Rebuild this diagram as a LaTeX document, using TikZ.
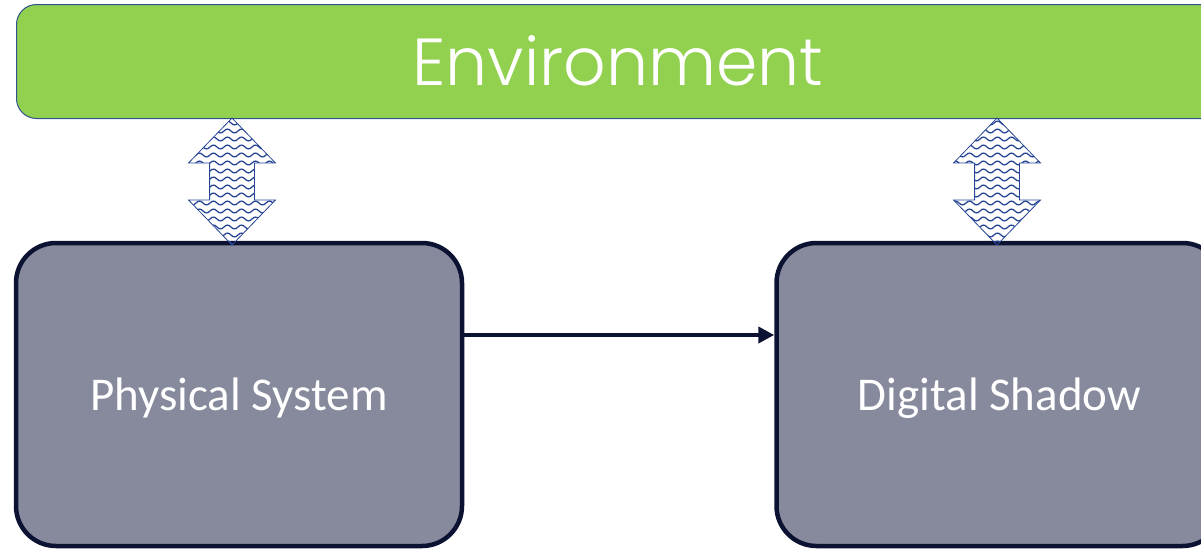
\documentclass[tikz,border=0pt]{standalone}
\usepackage{fontspec}
\newfontfamily\boxfont{Carlito}
\newfontfamily\envfont{Poppins}[UprightFont=* Light]
\usetikzlibrary{positioning,arrows.meta,shapes.arrows,patterns}
\definecolor{envgreen}{RGB}{146,208,80}
\definecolor{envline}{RGB}{47,82,143}
\definecolor{boxfill}{RGB}{134,138,156}
\definecolor{boxline}{RGB}{12,18,50}
\definecolor{wavecol}{RGB}{40,70,150}
\pgfdeclarepatternformonly{wavy}{\pgfqpoint{-1pt}{-1pt}}{\pgfqpoint{15pt}{9pt}}{\pgfqpoint{14pt}{8pt}}{
	\pgfsetlinewidth{1.3pt}
	\pgfpathmoveto{\pgfqpoint{0pt}{2pt}}
	\pgfpathcurveto{\pgfqpoint{2.3pt}{4.5pt}}{\pgfqpoint{4.7pt}{4.5pt}}{\pgfqpoint{7pt}{2pt}}
	\pgfpathcurveto{\pgfqpoint{9.3pt}{-0.5pt}}{\pgfqpoint{11.7pt}{-0.5pt}}{\pgfqpoint{14pt}{2pt}}
	\pgfusepath{stroke}
}
\tikzset{
	envbar/.style={rectangle,rounded corners=20pt,draw=envline,line width=1pt,fill=envgreen,
		minimum width=1240pt,minimum height=114pt,anchor=north west},
	envtext/.style={text=white,font=\envfont\fontsize{66.5}{72}\selectfont,inner sep=0pt},
	system/.style={rectangle,rounded corners=40pt,draw=boxline,line width=4.5pt,fill=boxfill,
		text=white,font=\boxfont\fontsize{47}{54}\selectfont,text depth=0pt,
		minimum width=446pt,minimum height=303pt},
	exchange/.style={double arrow,rotate=90,draw=wavecol,line width=0.8pt,pattern=wavy,
		pattern color=wavecol,inner xsep=0pt,inner ysep=22pt,minimum height=127pt,
		double arrow head extend=21pt,double arrow tip angle=88},
	flow/.style={-{Triangle[length=16pt,width=16pt]},line width=4.5pt,draw=boxline}
}

\begin{document}
\begin{tikzpicture}[x=1pt,y=-1pt]
	\useasboundingbox (0,0) rectangle (1201,549);
	\clip (0,0) rectangle (1201,549);
	
	\node[envbar] (env) at (16,4) {};
	\node[envtext] (envlabel) at (618,61) {Environment};
	
	\node[system] (phys) at (239,394.5) {Physical System};
	\node[system] (shadow) [right=310pt of phys] {Digital Shadow};
	
	\node[exchange] (physlink) at (232,181.5) {};
	\node[exchange] (shadowlink) at (997,181.5) {};
	
	\draw[flow] ([yshift=59.5pt]phys.east) -- ([yshift=59.5pt]shadow.west);
\end{tikzpicture}
\end{document}
